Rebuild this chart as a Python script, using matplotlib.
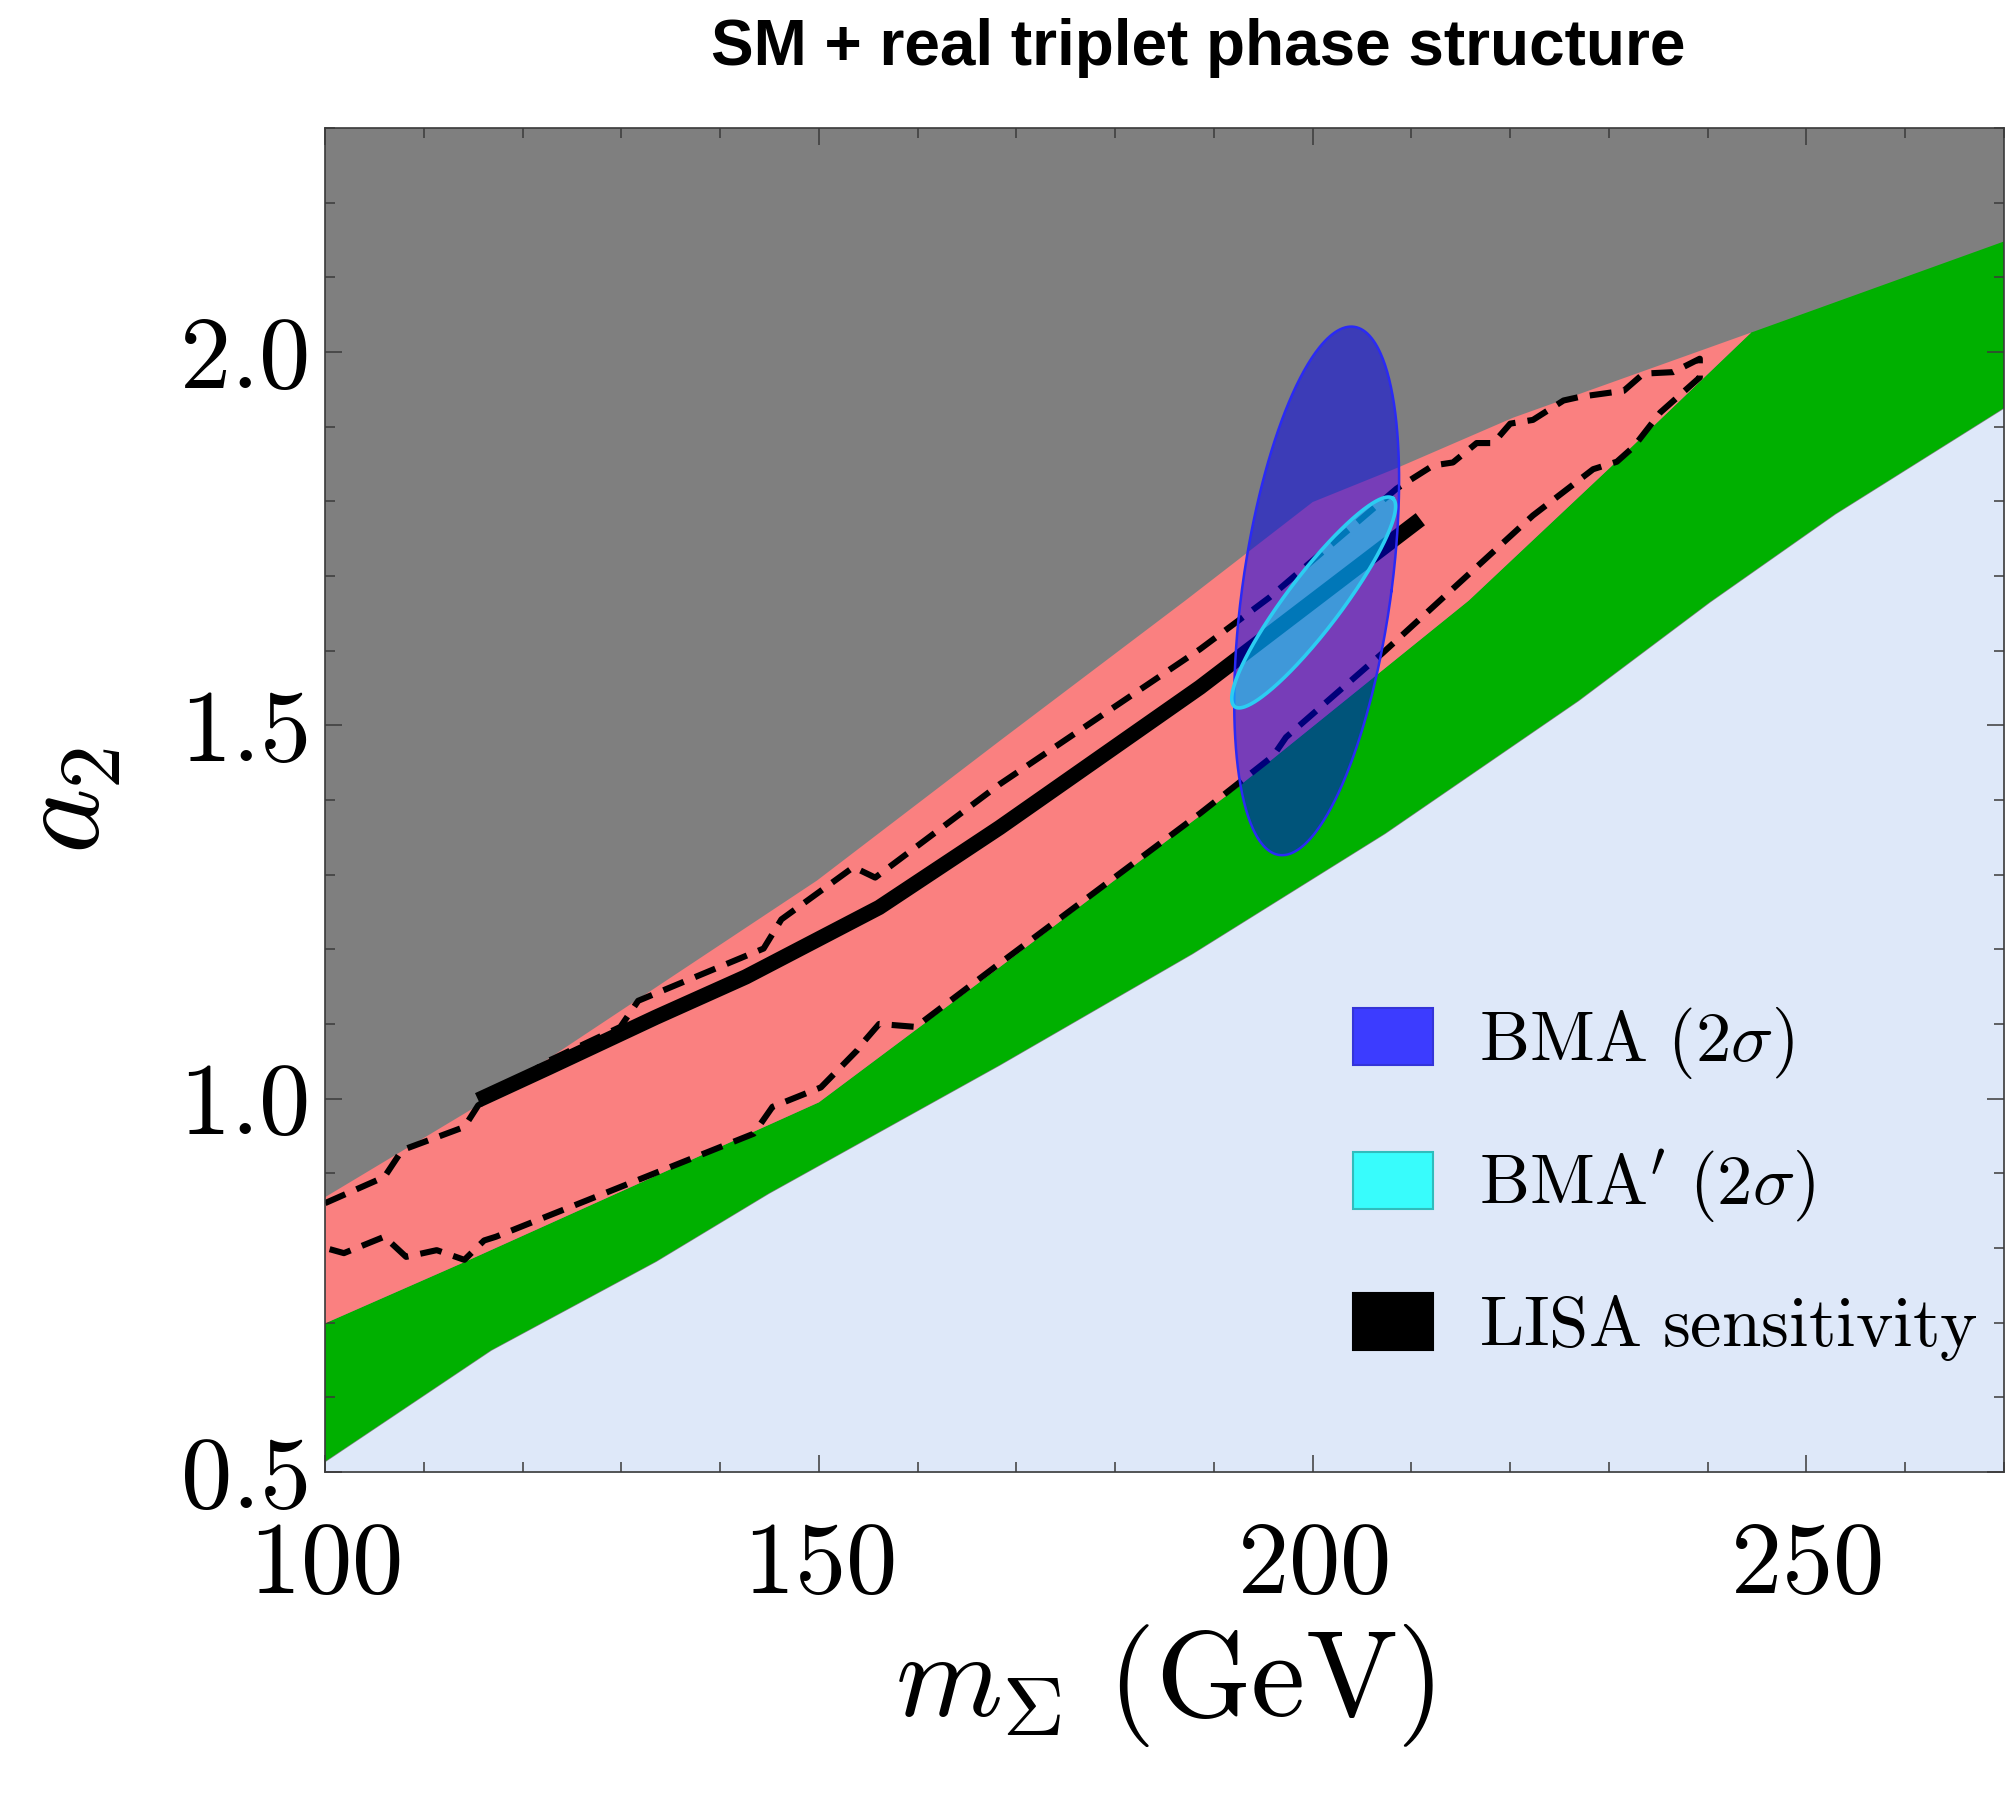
import numpy as np
import matplotlib
matplotlib.use("Agg")
import matplotlib.pyplot as plt
from matplotlib.patches import Patch
from matplotlib.ticker import MultipleLocator

plt.rcParams['mathtext.fontset'] = 'cm'
plt.rcParams['font.family'] = 'serif'
plt.rcParams['font.serif'] = ['cmr10', 'DejaVu Serif']
plt.rcParams['axes.formatter.use_mathtext'] = True
plt.rcParams['axes.unicode_minus'] = False

# Lower edge of the green band (top of the light-blue region)
lb_m = [100.0, 116.8, 133.5, 144.9, 168.3, 187.8, 207.3, 226.9, 240.2, 252.9, 270.0]
lb_a2 = [0.514, 0.663, 0.782, 0.873, 1.045, 1.194, 1.355, 1.533, 1.665, 1.783, 1.925]

# Upper edge of the green band
gt_m = [100.0, 114.1, 150.0, 168.3, 192.4, 215.8, 230.1, 244.4, 270.0]
gt_a2 = [0.699, 0.781, 0.995, 1.176, 1.417, 1.667, 1.845, 2.026, 2.148]

# Upper edge of the red (salmon) region; it closes on the green band at the tip
st_m = [100.0, 115.5, 149.8, 168.3, 187.1, 200.0, 208.6, 220.3, 244.4]
st_a2 = [0.868, 0.991, 1.292, 1.479, 1.667, 1.799, 1.845, 1.912, 2.026]

# Dashed contour: upper branch (left to right)
ud_m = [100.0, 106.0, 107.8, 114.1, 115.5, 122.7, 129.9, 131.7, 144.4, 146.2,
        153.5, 155.7, 168.3, 188.6, 195.6, 208.5, 212.2, 214.2, 216.6, 218.3,
        220.0, 222.3, 225.4, 227.1, 231.5, 233.5, 236.5, 239.2]
ud_a2 = [0.860, 0.895, 0.931, 0.962, 0.991, 1.051, 1.096, 1.131, 1.201, 1.240,
         1.310, 1.296, 1.421, 1.602, 1.671, 1.817, 1.848, 1.852, 1.878, 1.878,
         1.904, 1.909, 1.935, 1.940, 1.948, 1.971, 1.973, 1.991]

# Dashed contour: lower branch (right to left)
ld_m = [239.2, 235.2, 232.5, 230.8, 228.4, 222.3, 207.1, 197.3, 196.0, 188.6,
        168.3, 159.8, 156.1, 154.4, 153.9, 150.2, 145.3, 143.4, 117.3, 116.1,
        114.1, 111.3, 108.2, 106.0, 101.9, 100.0]
ld_a2 = [1.966, 1.919, 1.873, 1.853, 1.843, 1.781, 1.597, 1.484, 1.459, 1.382,
         1.181, 1.096, 1.100, 1.074, 1.065, 1.015, 0.989, 0.953, 0.815, 0.810,
         0.784, 0.797, 0.788, 0.815, 0.793, 0.800]

# LISA sensitivity line
lisa_m = [115.5, 122.7, 133.5, 142.6, 156.1, 168.3, 188.6, 210.9]
lisa_a2 = [0.998, 1.042, 1.109, 1.163, 1.256, 1.363, 1.551, 1.776]

# Benchmark ellipses: centre and two conjugate semi-axis vectors (m, a2)
bma_center = (200.4, 1.680)
bma_u = (7.58, 0.0)
bma_v = (3.5, 0.354)

bmap_center = (200.1, 1.6645)
bmap_u = (8.0, 0.1395)
bmap_v = (2.2, -0.022)

legend_labels = [r'$\mathrm{BMA}\ (2\sigma)$', r"$\mathrm{BMA}'\ (2\sigma)$",
                 r'$\mathrm{LISA\ sensitivity}$']


def ellipse_points(center, u, v, n=400):
    t = np.linspace(0, 2 * np.pi, n)
    x = center[0] + u[0] * np.cos(t) + v[0] * np.sin(t)
    y = center[1] + u[1] * np.cos(t) + v[1] * np.sin(t)
    return x, y


fig = plt.figure(figsize=(20.07, 17.95), dpi=100)
ax = fig.add_axes([0.1620, 0.1800, 0.8365, 0.7487])
ax.set_xlim(100, 270)
ax.set_ylim(0.5, 2.3)
ax.set_facecolor('#7f7f7f')

# Phase regions
ax.fill_between(lb_m, 0.0, lb_a2, color='#dee8f9', lw=0, zorder=1)
ax.fill(np.r_[gt_m, lb_m[::-1]], np.r_[gt_a2, lb_a2[::-1]],
        color='#00b000', lw=0, zorder=2)
gt_m_arr = np.array(gt_m)
gt_a2_arr = np.array(gt_a2)
keep = gt_m_arr <= st_m[-1]
ax.fill(np.r_[st_m, gt_m_arr[keep][::-1]], np.r_[st_a2, gt_a2_arr[keep][::-1]],
        color='#fa8080', lw=0, zorder=3)

# Dashed contour
ax.plot(np.r_[ud_m, ld_m], np.r_[ud_a2, ld_a2], color='black', lw=4.4,
        dashes=(3.6, 2.0), zorder=4)

# LISA line
ax.plot(lisa_m, lisa_a2, color='black', lw=11, solid_capstyle='butt', zorder=5)

# Ellipses
ex, ey = ellipse_points(bma_center, bma_u, bma_v)
ax.fill(ex, ey, facecolor=(0.0, 0.0, 0.925), alpha=0.52, lw=0, zorder=6)
ax.plot(ex, ey, color='#2a2af5', lw=1.8, zorder=6)

cx, cy = ellipse_points(bmap_center, bmap_u, bmap_v)
ax.fill(cx, cy, facecolor=(0.0, 1.0, 1.0), alpha=0.47, lw=0, zorder=7)
ax.plot(cx, cy, color='#2ccdf2', lw=2.6, zorder=7)

# Axes styling
ax.xaxis.set_major_locator(MultipleLocator(50))
ax.xaxis.set_minor_locator(MultipleLocator(10))
ax.yaxis.set_major_locator(MultipleLocator(0.5))
ax.yaxis.set_minor_locator(MultipleLocator(0.1))
ax.tick_params(which='both', direction='in', top=True, right=True,
               color='#3a3a3a', width=1.1)
ax.tick_params(which='major', length=12, labelsize=74)
ax.tick_params(axis='x', which='major', pad=36)
ax.tick_params(axis='y', which='major', pad=12)
ax.tick_params(which='minor', length=7)
for sp in ax.spines.values():
    sp.set_color('#3a3a3a')
    sp.set_linewidth(1.2)
    sp.set_zorder(10)
ax.set_axisbelow(False)

ax.set_xlabel(r'$m_{\Sigma}\ (\mathrm{GeV})$', fontsize=88)
ax.xaxis.set_label_coords(0.5, -0.112)
ax.xaxis.label.set_va('top')
ax.set_ylabel(r'$a_2$', fontsize=90)
ax.yaxis.set_label_coords(-0.120, 0.5)

handles = [Patch(facecolor='#3c3cff', edgecolor='#3434d8', lw=1.5),
           Patch(facecolor='#38fcfc', edgecolor='#30bcbc', lw=1.5),
           Patch(facecolor='black', edgecolor='black', lw=1.5)]
ax.legend(handles, legend_labels, loc='upper left', bbox_to_anchor=(0.612, 0.3475),
          frameon=False, fontsize=51, handlelength=1.14, handleheight=0.87,
          handletextpad=0.64, labelspacing=0.95, borderaxespad=0, borderpad=0)

fig.text(0.597, 0.9638, 'SM + real triplet phase structure', ha='center',
         va='baseline', fontsize=46, fontweight='bold', family='Liberation Sans')

fig.savefig('out.png', dpi=100)
